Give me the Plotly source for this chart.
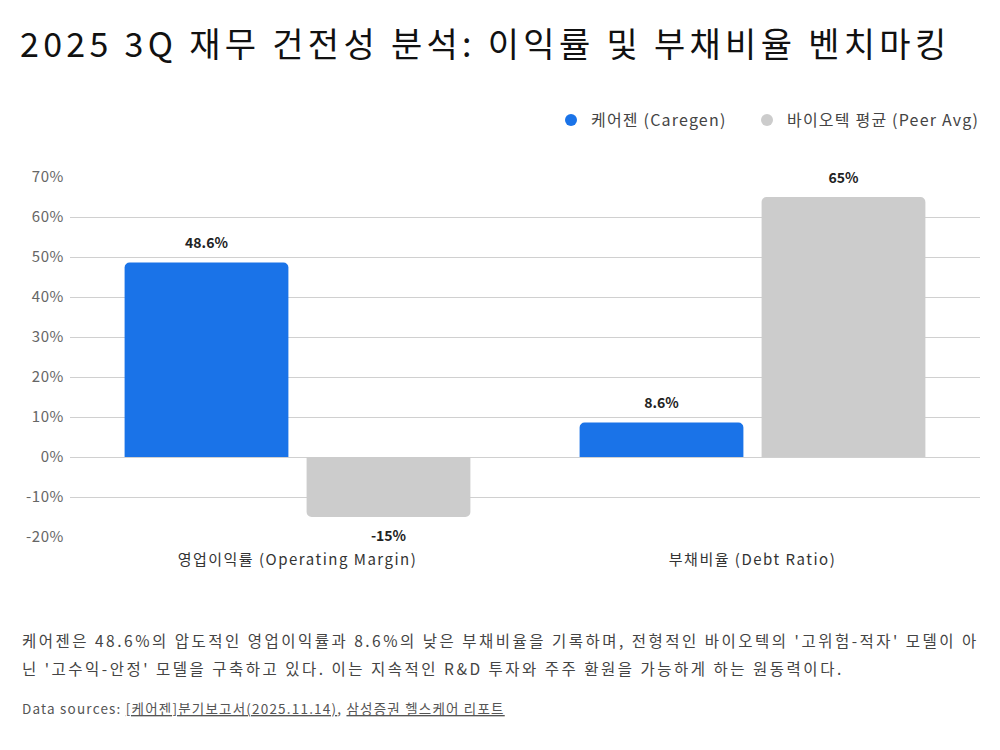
import plotly.graph_objects as go

categories = ["영업이익률 (Operating Margin)", "부채비율 (Debt Ratio)"]
caregen = [48.6, 8.6]
peer = [-15, 65]
caregen_labels = ["48.6%", "8.6%"]
peer_labels = ["-15%", "65%"]
series_names = ["케어젠 (Caregen)", "바이오텍 평균 (Peer Avg)"]
colors = ["#1a73e8", "#cccccc"]
y_ticks = [-20, -10, 0, 10, 20, 30, 40, 50, 60, 70]

FONT = "Noto Sans CJK KR, Noto Sans, sans-serif"


def sp(t, ls):
    return f"<span style='letter-spacing:{ls}px'>{t}</span>"


fig = go.Figure()
legend_ids = ["legend", "legend2"]
for i, (vals, labels, name, col) in enumerate([(caregen, caregen_labels, series_names[0], colors[0]),
                                               (peer, peer_labels, series_names[1], colors[1])]):
    fig.add_trace(go.Bar(
        x=categories, y=vals, name=name, marker_color=col, marker_line_width=0,
        offsetgroup=str(i), alignmentgroup="a",
        showlegend=False, hoverinfo="skip",
    ))
    fig.add_trace(go.Scatter(
        x=categories, y=vals, mode="markers+text", text=labels,
        textposition=["top center" if v >= 0 else "bottom center" for v in vals],
        textfont=dict(family=FONT, size=14, color="#222222", weight="bold"),
        marker=dict(size=[16 if v >= 0 else 20 for v in vals], color="rgba(0,0,0,0)",
                    opacity=0, line=dict(width=0, color="rgba(0,0,0,0)")),
        offsetgroup=str(i), alignmentgroup="a",
        cliponaxis=False, showlegend=False, hoverinfo="skip",
    ))
    fig.add_trace(go.Scatter(
        x=[None], y=[None], mode="markers", name=sp(name, 1.2), legend=legend_ids[i],
        marker=dict(symbol="circle", size=15, color=col, line=dict(width=0)), showlegend=True,
    ))

legend_style = dict(orientation="h", xanchor="left", y=(537-120)/360, yanchor="middle",
                    font=dict(family=FONT, size=16, color="#444444"),
                    itemsizing="constant", itemwidth=30, bgcolor="rgba(0,0,0,0)")

fig.update_layout(
    width=1000, height=750,
    margin=dict(l=70, r=20, t=177, b=213, autoexpand=False),
    paper_bgcolor="white", plot_bgcolor="white",
    font=dict(family=FONT),
    barmode="group", bargap=0.2, bargroupgap=0.1, barcornerradius=5,
    scattermode="group", scattergap=0.2,
    title=dict(text=sp("2025 3Q 재무 건전성 분석: 이익률 및 부채비율 벤치마킹", 4.3),
               x=20/1000, xanchor="left", xref="container",
               y=1 - 45/750, yanchor="middle", yref="container",
               font=dict(family=FONT, size=34, color="#111111")),
    legend=dict(x=(551-70)/910, **legend_style),
    legend2=dict(x=(747-70)/910, **legend_style),
    showlegend=True,
)
fig.update_yaxes(range=[-20, 70], tickvals=y_ticks, ticktext=[sp(f"{v}%", 0.6) for v in y_ticks],
                 showgrid=True, gridcolor="#d0d0d0", gridwidth=1, zeroline=False,
                 tickfont=dict(family=FONT, size=15, color="#666666"),
                 ticks="outside", ticklen=2, tickcolor="rgba(0,0,0,0)",
                 fixedrange=True)
fig.update_xaxes(tickvals=categories, ticktext=[sp(c, 1.5) for c in categories],
                 tickfont=dict(family=FONT, size=15, color="#333333"),
                 showline=False, ticks="outside", ticklen=9, tickcolor="rgba(0,0,0,0)",
                 fixedrange=True)

caption1 = "케어젠은 48.6%의 압도적인 영업이익률과 8.6%의 낮은 부채비율을 기록하며, 전형적인 바이오텍의 '고위험-적자' 모델이 아"
caption2 = "닌 '고수익-안정' 모델을 구축하고 있다. 이는 지속적인 R&D 투자와 주주 환원을 가능하게 하는 원동력이다."
fig.add_annotation(text=sp(caption1, 2.5), xref="paper", yref="paper", x=-50/910, xanchor="left",
                   y=(537-640)/360, yanchor="middle", showarrow=False,
                   font=dict(family=FONT, size=15.5, color="#444444"))
fig.add_annotation(text=sp(caption2, 2.5), xref="paper", yref="paper", x=-50/910, xanchor="left",
                   y=(537-668)/360, yanchor="middle", showarrow=False,
                   font=dict(family=FONT, size=15.5, color="#444444"))
src = (sp("Data sources: ", 1.2) + "<span style='text-decoration:underline;letter-spacing:1.2px'>[케어젠]분기보고서(2025.11.14)</span>"
       + sp(", ", 1.2) + "<span style='text-decoration:underline;letter-spacing:1.2px'>삼성증권 헬스케어 리포트</span>")
fig.add_annotation(text=src, xref="paper", yref="paper", x=-50/910, xanchor="left",
                   y=(537-708)/360, yanchor="middle", showarrow=False,
                   font=dict(family=FONT, size=13.5, color="#555555"))

fig.write_html("out.html")
